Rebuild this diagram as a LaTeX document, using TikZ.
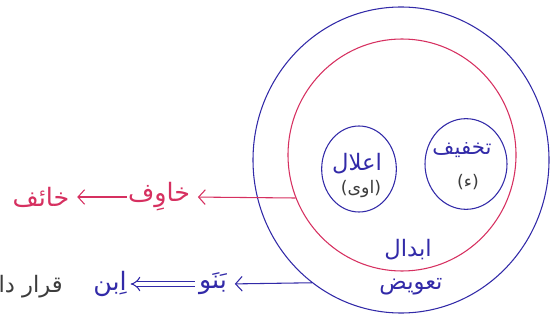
\documentclass[tikz,border=0pt]{standalone}
\usepackage{fontspec}
\newfontfamily\arabicfont[Script=Arabic]{DejaVu Sans}
\TeXXeTstate=1
\usetikzlibrary{shapes.geometric,arrows.meta}
\definecolor{penred}{RGB}{214,48,96}
\definecolor{penblue}{RGB}{50,42,168}
\definecolor{pengrey}{RGB}{60,60,60}
\newcommand{\ar}[1]{{\arabicfont\beginR #1\endR}}
\tikzset{
	ring/.style={ellipse,draw,line width=0.8pt,inner sep=0pt},
	word/.style={inner sep=0.75pt,font=\fontsize{19}{22}\selectfont},
	small word/.style={inner sep=0.75pt,font=\fontsize{13}{16}\selectfont},
	pen arrow/.style={line width=0.8pt,-{Straight Barb[length=5pt,width=11pt]},shorten >=5pt}
}
\begin{document}
\begin{tikzpicture}[x=0.75pt,y=0.75pt,yscale=-1,xscale=1]
\useasboundingbox (0,0) rectangle (552,320);

%Ellipses
\node [ring,penblue,minimum width=222pt,minimum height=229.5pt] (taweez) at (401,160) {};
\node [ring,penred,minimum width=171pt,minimum height=174pt] (ibdal) at (402,155) {};
\node [ring,penblue,minimum width=56pt,minimum height=64.5pt] (ilal) at (359,169) {};
\node [ring,penblue,minimum width=61.5pt,minimum height=68pt] (takhfif) at (466,164) {};

% Text Node
\node [word,penblue,font=\fontsize{17}{20}\selectfont] (ilaltext) at (357,164) {\ar{اعلال}};
\node [small word,pengrey] (ilalnote) at (361,189) {\ar{(اوی)}};
% Text Node
\node [word,penblue,font=\fontsize{16}{19}\selectfont] (takhfiftext) at (462,150) {\ar{تخفیف}};
\node [small word,pengrey] (takhfifnote) at (468,182) {\ar{(ء)}};
% Text Node
\node [word,penblue,font=\fontsize{17}{20}\selectfont] (ibdaltext) at (408,250) {\ar{ابدال}};
% Text Node
\node [word,penblue,font=\fontsize{17}{20}\selectfont] (taweeztext) at (411,287) {\ar{تعویض}};

% Text Node
\node [word,penred] (khawif) at (159,197) {\ar{خاوِف}};
\node [word,penred] (khaif) at (41,197) {\ar{خائف}};
% Text Node
\node [word,penblue] (banaw) at (213,284) {\ar{بَنَو}};
\node [word,penblue] (ibn) at (110,284) {\ar{اِبن}};
\node [word,pengrey,font=\fontsize{17}{20}\selectfont,anchor=east] (qarar) at (64,287) {\ar{قرار داد}};

%Straight Lines
\draw [pen arrow,penred] (ibdal.202) -- (khawif.east);
\draw [pen arrow,penred] (khawif.west) -- (khaif.east);
%Straight Lines
\draw [pen arrow,penblue] (taweez.234) -- (banaw.east);
\draw [line width=0.8pt,double,double distance=3pt,-{Implies},shorten >=2pt,shorten <=2pt,penblue] (banaw.west) -- (ibn.east);
\end{tikzpicture}
\end{document}
